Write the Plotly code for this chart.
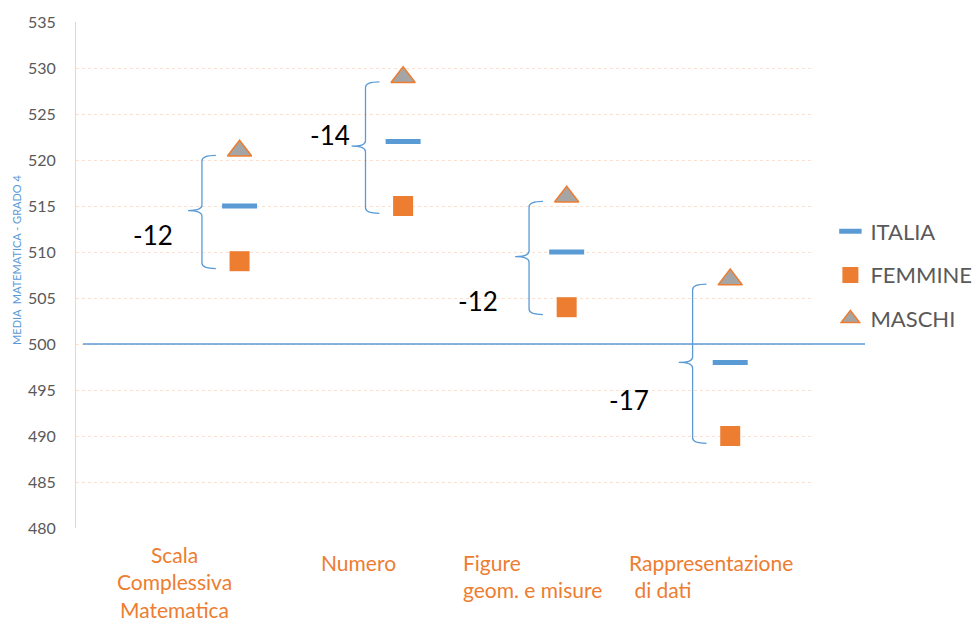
import plotly.graph_objects as go

# Mean maths scores, grade 4
categories = ["Scala<br>Complessiva<br>Matematica", "Numero",
              "Figure<br>geom. e misure", "Rappresentazione<br> di dati"]
italia = [515, 522, 510, 498]
femmine = [509, 515, 504, 490]
maschi = [521, 529, 516, 507]
y_ticks = list(range(480, 536, 5))
reference_level = 500

BLUE = "#5B9BD5"
ORANGE = "#ED7D31"
GRAY = "#A5A5A5"
TEXT = "#595959"
FONT = "Lato"

n = len(categories)
xs = [i + 1 for i in range(n)]            # marker positions
x_max = n + 0.5
label_x = [(i + 0.5) * x_max / n for i in range(n)]  # category label centres

fig = go.Figure()

fig.add_trace(go.Scatter(
    x=xs, y=italia, mode="markers", name="ITALIA", legendgroup="a",
    marker=dict(symbol="line-ew", size=25, color=BLUE,
                line=dict(color=BLUE, width=5)),
))
fig.add_trace(go.Scatter(
    x=xs, y=femmine, mode="markers", name="FEMMINE", legendgroup="b",
    marker=dict(symbol="square", size=20, color=ORANGE,
                line=dict(color=ORANGE, width=0)),
))
fig.add_trace(go.Scatter(
    x=xs, y=maschi, mode="markers", name="MASCHI", legendgroup="c",
    marker=dict(symbol="triangle-up", size=21, color=GRAY,
                line=dict(color=ORANGE, width=1.5)),
))

# Curly braces linking MASCHI and FEMMINE, with the gap as a label
label_offsets = [(-0.30, -2.7), (-0.22, 1.2), (-0.31, -4.8), (-0.39, -4.1)]
arm = 0.085
spine_dx = 0.23
for i in range(n):
    x0 = xs[i] - spine_dx
    top = maschi[i] - 0.5
    bot = femmine[i] - 0.8
    mid = (maschi[i] + femmine[i]) / 2 - 0.5
    path = (f"M {x0 + arm},{top} Q {x0},{top} {x0},{top - 0.6} "
            f"L {x0},{mid + 0.6} Q {x0},{mid} {x0 - arm},{mid} "
            f"Q {x0},{mid} {x0},{mid - 0.6} "
            f"L {x0},{bot + 0.6} Q {x0},{bot} {x0 + arm},{bot}")
    fig.add_shape(type="path", path=path, xref="x", yref="y",
                  line=dict(color=BLUE, width=1.3))
    dx, dy = label_offsets[i]
    fig.add_annotation(x=x0 + dx, y=mid + dy, xref="x", yref="y",
                       text=str(femmine[i] - maschi[i]), showarrow=False,
                       font=dict(family=FONT, size=26, color="#000000"))

# Reference line at 500
fig.add_shape(type="line", xref="paper", yref="y", x0=0.0095, x1=1.072,
              y0=reference_level, y1=reference_level,
              line=dict(color=BLUE, width=1.6))

# Category labels below the plot
label_dx = [0.04, 0.04, -0.46, -0.57]
label_shift = [-12, -20, -20, -20]
for i, cat in enumerate(categories):
    left = i >= 2
    fig.add_annotation(
        x=label_x[i] + label_dx[i], y=0, xref="x", yref="paper",
        yshift=label_shift[i], yanchor="top",
        xanchor="left" if left else "center",
        align="left" if left else "center", text=cat, showarrow=False,
        font=dict(family=FONT, size=21, color=ORANGE),
    )

# Axis title
fig.add_annotation(x=-0.08, y=0.53, xref="paper", yref="paper",
                   xanchor="center", text="MEDIA  MATEMATICA - GRADO 4",
                   textangle=-90, showarrow=False,
                   font=dict(family=FONT, size=11, color=BLUE))

fig.update_layout(
    width=975, height=622,
    margin=dict(l=76, r=163, t=22, b=94, autoexpand=False),
    paper_bgcolor="white", plot_bgcolor="white",
    font=dict(family=FONT, color=TEXT),
    legend=dict(x=1.025, y=0.5, yanchor="middle", xanchor="left",
                font=dict(family=FONT, size=22, color=TEXT),
                tracegroupgap=12, bgcolor="rgba(0,0,0,0)"),
    showlegend=True,
)
fig.update_xaxes(range=[0, x_max], showgrid=False, zeroline=False,
                 showticklabels=False, showline=False)
fig.update_yaxes(range=[480, 535], tickvals=y_ticks, showgrid=True,
                 gridcolor="#FBE0CF", griddash="dot", gridwidth=1,
                 zeroline=False, showline=True, linecolor="#D9D9D9",
                 linewidth=1, ticks="", ticklabelstandoff=16,
                 tickfont=dict(family=FONT, size=16, color=TEXT))

fig.write_html("out.html")
